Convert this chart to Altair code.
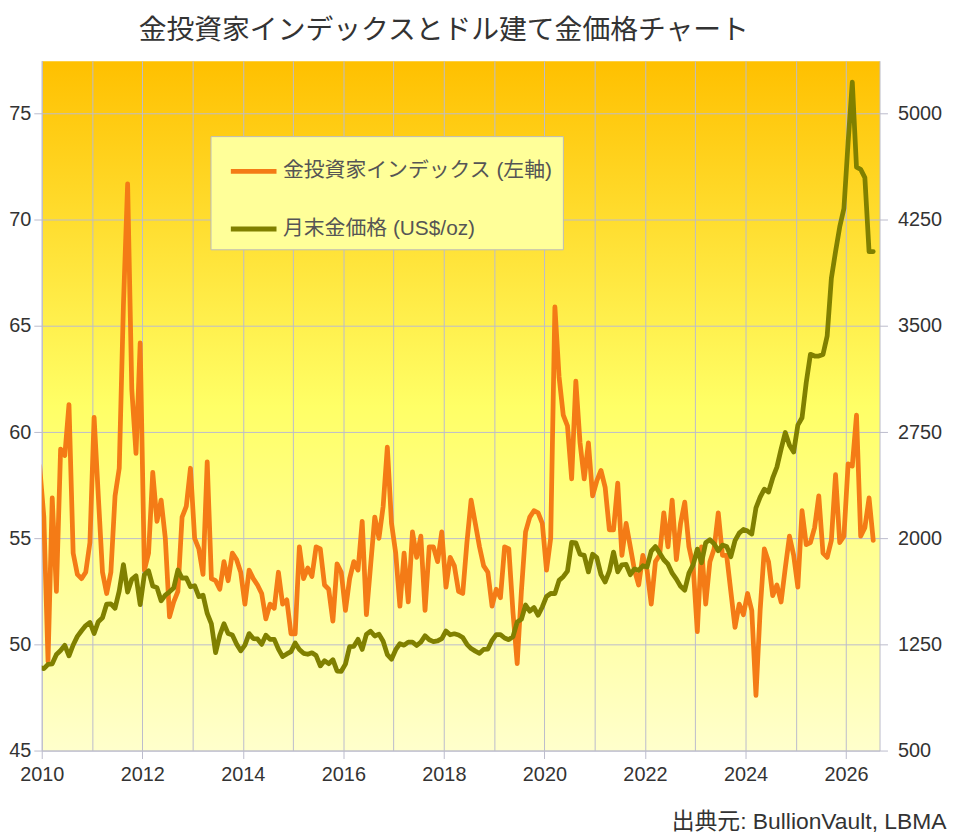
import altair as alt
import pandas as pd

title_text = "金投資家インデックスとドル建て金価格チャート"
source_text = "出典元: BullionVault, LBMA"
series_names = ["金投資家インデックス (左軸)", "月末金価格 (US$/oz)"]
series_colors = ["#F47B16", "#808000"]

# monthly values, first value = Dec 2009 (clipped at the left edge), last = Jul 2026
first_year = 2009
first_month = 12

investor_index = [
    58.4,
    56.0, 49.2, 56.9, 52.5, 59.2, 58.9, 61.3, 54.3, 53.3, 53.1, 53.4, 54.8,   # 2010
    60.7, 57.0, 53.4, 52.4, 53.4, 57.0, 58.3, 66.0, 71.7, 62.0, 59.0, 64.2,   # 2011
    53.5, 54.3, 58.1, 55.8, 56.8, 55.0, 51.3, 52.0, 52.5, 56.0, 56.5, 58.3,   # 2012
    55.0, 54.5, 53.3, 58.6, 53.1, 53.0, 52.6, 53.9, 53.0, 54.3, 54.0, 53.4,   # 2013
    51.9, 53.5, 53.1, 52.8, 52.4, 51.2, 51.9, 51.7, 53.4, 51.9, 52.1, 50.5,   # 2014
    50.5, 54.6, 53.1, 53.6, 53.2, 54.6, 54.5, 52.8, 52.6, 51.1, 53.8, 53.4,   # 2015
    51.6, 53.1, 53.9, 53.5, 55.8, 51.4, 53.7, 56.0, 55.0, 56.5, 59.3, 55.7,   # 2016
    54.3, 51.8, 54.3, 52.0, 55.3, 54.1, 55.1, 51.6, 54.6, 54.6, 53.9, 55.3,   # 2017
    52.7, 54.1, 53.7, 52.5, 52.4, 54.8, 56.8, 55.7, 54.6, 53.7, 53.4, 51.8,   # 2018
    52.6, 52.2, 54.6, 54.5, 51.5, 49.1, 52.5, 55.3, 56.0, 56.3, 56.2, 55.7,   # 2019
    53.5, 55.0, 65.9, 62.6, 60.8, 60.3, 57.8, 62.4, 59.5, 57.8, 59.5, 57.0,   # 2020
    57.7, 58.2, 57.4, 55.4, 55.4, 57.6, 54.2, 55.7, 54.6, 53.5, 52.8, 54.2,   # 2021
    53.5, 51.9, 53.9, 54.2, 56.2, 54.6, 56.8, 54.0, 55.7, 56.7, 54.6, 53.7,   # 2022
    50.6, 54.6, 51.9, 53.9, 54.5, 56.2, 54.2, 54.2, 52.5, 50.8, 51.9, 51.4,   # 2023
    52.4, 51.6, 47.6, 51.6, 54.5, 53.9, 52.3, 52.8, 52.0, 53.6, 55.1, 54.2,   # 2024
    52.7, 56.3, 54.7, 54.8, 55.5, 57.0, 54.3, 54.1, 54.9, 58.0, 54.8, 55.1,   # 2025
    58.5, 58.4, 60.8, 55.1, 55.5, 56.9, 54.9,                                 # 2026
]

gold_price = [
    1087.5,
    1078.5, 1109.5, 1113.3, 1179.3, 1207.5, 1244.0, 1169.0, 1246.0, 1307.0, 1346.8, 1383.5, 1405.5,   # 2010
    1327.0, 1411.0, 1439.0, 1535.5, 1536.5, 1505.5, 1628.5, 1813.5, 1620.0, 1710.0, 1735.0, 1531.0,   # 2011
    1744.0, 1770.0, 1662.5, 1651.3, 1558.0, 1598.5, 1622.0, 1648.5, 1776.0, 1719.0, 1721.0, 1657.5,   # 2012
    1664.8, 1588.0, 1598.3, 1469.0, 1394.5, 1192.0, 1314.5, 1396.0, 1326.5, 1316.0, 1253.0, 1204.5,   # 2013
    1244.8, 1326.5, 1291.8, 1288.5, 1250.5, 1315.0, 1285.3, 1285.8, 1216.5, 1164.3, 1182.8, 1199.3,   # 2014
    1260.3, 1214.0, 1187.0, 1180.3, 1190.6, 1171.0, 1098.4, 1135.0, 1114.0, 1142.4, 1061.9, 1060.2,   # 2015
    1111.0, 1234.9, 1237.0, 1285.7, 1214.8, 1320.8, 1342.9, 1309.8, 1322.5, 1272.0, 1178.1, 1145.9,   # 2016
    1212.8, 1255.6, 1244.9, 1266.5, 1266.2, 1242.3, 1266.3, 1311.8, 1283.1, 1270.1, 1275.0, 1291.0,   # 2017
    1345.0, 1318.4, 1325.4, 1316.6, 1298.8, 1250.5, 1220.6, 1202.5, 1187.3, 1215.0, 1217.6, 1279.0,   # 2018
    1319.2, 1319.7, 1295.6, 1283.5, 1305.6, 1409.0, 1427.6, 1528.4, 1485.3, 1511.0, 1456.1, 1514.8,   # 2019
    1589.0, 1609.9, 1609.0, 1702.8, 1728.7, 1768.1, 1970.5, 1967.6, 1886.9, 1879.4, 1762.2, 1887.6,   # 2020
    1863.6, 1743.2, 1691.1, 1767.7, 1902.8, 1763.2, 1813.0, 1814.9, 1742.8, 1783.4, 1774.1, 1805.9,   # 2021
    1797.1, 1909.0, 1942.2, 1897.0, 1848.4, 1817.0, 1753.4, 1711.8, 1660.6, 1633.6, 1753.6, 1812.4,   # 2022
    1923.9, 1826.9, 1969.0, 1990.0, 1962.1, 1912.3, 1951.7, 1942.3, 1870.1, 1983.5, 2036.9, 2062.4,   # 2023
    2050.9, 2030.1, 2214.4, 2291.2, 2347.4, 2326.8, 2426.4, 2502.7, 2629.9, 2747.4, 2657.0, 2609.1,   # 2024
    2800.0, 2852.0, 3100.0, 3300.0, 3288.0, 3288.0, 3299.0, 3430.0, 3837.0, 4026.0, 4201.0, 4331.0,   # 2025
    4800.0, 5223.0, 4622.0, 4607.0, 4549.0, 4026.0, 4026.0,                                           # 2026
]

left_ticks = [45, 50, 55, 60, 65, 70, 75]
right_ticks = [500, 1250, 2000, 2750, 3500, 4250, 5000]
year_ticks = list(range(2010, 2027))

n = len(investor_index)
t = [first_year + (first_month - 1 + k + 0.5) / 12 for k in range(n)]
df = pd.DataFrame({"t": t, "idx": investor_index, "gold": gold_price})

grid_col = "#BBBBCC"
latin_cjk = "Liberation Sans, Noto Sans CJK JP"

x_enc = alt.X(
    "t:Q",
    scale=alt.Scale(domain=[2010, 2026 + 8 / 12], nice=False, zero=False),
    axis=alt.Axis(
        values=year_ticks,
        format="d",
        labelExpr="datum.value % 2 == 0 ? datum.label : ''",
        tickColor={"condition": {"test": "datum.value % 2 == 0", "value": grid_col}, "value": "transparent"},
        grid=True,
        labelFlush=False,
        labelPadding=6,
        title=source_text,
        titleX=911,
        titleY=79,
        titleAlign="right",
        titleAnchor="end",
        titleBaseline="alphabetic",
        titleFontSize=23,
        titleFontWeight="normal",
        titleColor="#333333",
        titleFont=latin_cjk,
    ),
)

color_enc = alt.Color(
    "s:N",
    scale=alt.Scale(domain=series_names, range=series_colors),
    legend=alt.Legend(
        orient="none",
        legendX=170,
        legendY=76,
        title=None,
        fillColor="#FFFF99",
        strokeColor="#BBBBBB",
        padding=10,
        symbolOffset=8,
        symbolType="stroke",
        symbolStrokeWidth=5,
        symbolSize=2116,
        labelFontSize=21,
        labelFont=latin_cjk,
        labelColor="#555555",
        rowPadding=22,
        labelOffset=4,
        direction="vertical",
        labelLimit=500,
    ),
)

base = alt.Chart(df)

line_idx = base.transform_calculate(s=f"'{series_names[0]}'").mark_line(
    strokeWidth=4.8, clip=True, strokeJoin="round", strokeCap="round"
).encode(
    x=x_enc,
    y=alt.Y(
        "idx:Q",
        scale=alt.Scale(domain=[45, 77.5], nice=False, zero=False),
        axis=alt.Axis(values=left_ticks, title=None, orient="left", grid=True, labelPadding=3),
    ),
    color=color_enc,
)

line_gold = base.transform_calculate(s=f"'{series_names[1]}'").mark_line(
    strokeWidth=4.8, clip=True, strokeJoin="round", strokeCap="round"
).encode(
    x=x_enc,
    y=alt.Y(
        "gold:Q",
        scale=alt.Scale(domain=[500, 5375], nice=False, zero=False),
        axis=alt.Axis(values=right_ticks, format="d", title=None, orient="right", grid=False, labelPadding=10),
    ),
    color=color_enc,
)

gradient_expr = (
    "{gradient: 'linear', x1: 0, y1: 0, x2: 0, y2: 1, stops: ["
    "{offset: 0, color: '#FFC000'}, {offset: 0.5, color: '#FFFF66'}, {offset: 1, color: '#FFFFCC'}]}"
)

chart = (
    alt.layer(line_idx, line_gold)
    .resolve_scale(y="independent")
    .properties(
        width=844,
        height=695,
        padding={"left": 0, "top": 6, "right": 5, "bottom": 0},
        background="white",
        title=alt.TitleParams(
            text=title_text,
            fontSize=28,
            font="Noto Sans CJK JP",
            fontWeight="normal",
            color="#333333",
            anchor="middle",
            frame="group",
            dx=-17,
            offset=16,
        ),
    )
    .configure_view(fill=alt.ExprRef(expr=gradient_expr), stroke="transparent")
    .configure_axis(
        gridColor=grid_col,
        gridWidth=1,
        domainColor=grid_col,
        tickColor=grid_col,
        tickSize=8,
        labelFont="Liberation Sans",
        labelFontSize=20,
        labelColor="#333333",
    )
)

chart.save("out.html", embed_options={"renderer": "svg", "actions": False})
